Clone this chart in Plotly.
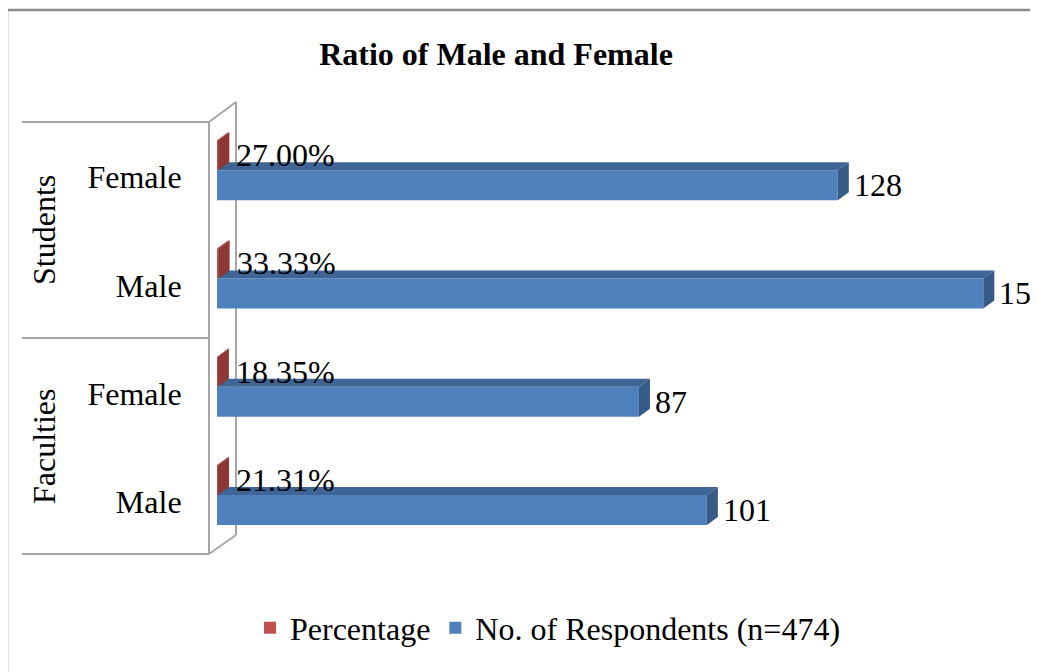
import plotly.graph_objects as go

# ---------------- data ----------------
groups = ["Students", "Students", "Faculties", "Faculties"]
genders = ["Female", "Male", "Female", "Male"]
respondents = [128, 158, 87, 101]
percentage = [0.2700, 0.3333, 0.1835, 0.2131]
series_names = ["Percentage", "No. of Respondents (n=474)"]

# ---------------- layout helpers ----------------
OFF = 8                       # page body margin of the html page
FIG_W, FIG_H = 1038 - OFF, 672 - OFF
L, T = 217 - OFF, 116 - OFF   # plot area origin (figure pixels)
PLOT_BOTTOM = 549 - OFF
R, B = 0, FIG_H - PLOT_BOTTOM
PW, PH = FIG_W - L - R, FIG_H - T - B
PX_PER_X = 4.85
PX_PER_Y = PH / 4.0
X_MAX = PW / PX_PER_X

def xp(px):  # reference-screen pixel -> paper
    return (px - OFF - L) / PW

def yp(py):
    return 1 - (py - OFF - T) / PH

FONT = "Times New Roman, Liberation Serif, serif"
FS = 32
BAR_W = 30 / PX_PER_Y          # bar thickness in category units
DX = 11 / PX_PER_X             # 3D depth in x units
DY = 8 / PX_PER_Y              # 3D depth in y units

n = len(genders)
pos = [n - 1 - i for i in range(n)]

RED, RED_SIDE, RED_TOP = "#C0504D", "#8E3836", "#A4403D"
BLUE, BLUE_TOP, BLUE_SIDE = "#4F81BD", "#3E6595", "#375B87"

fig = go.Figure()
fig.add_trace(go.Bar(
    name=series_names[0], orientation="h", x=percentage, y=pos,
    base=0, offset=0, width=BAR_W, marker=dict(color=RED, line=dict(width=0)),
    hoverinfo="x+y"))
fig.add_trace(go.Bar(
    name=series_names[1], orientation="h", x=respondents, y=pos,
    base=0, offset=-BAR_W, width=BAR_W, marker=dict(color=BLUE, line=dict(width=0)),
    hoverinfo="x+y"))

shapes = []
# outer chart border
shapes.append(dict(type="rect", xref="paper", yref="paper",
                   x0=xp(7), x1=xp(1060), y0=yp(10), y1=yp(700),
                   line=dict(color="#8C8C8C", width=2.5), fillcolor="rgba(0,0,0,0)", layer="below"))
# category wall lines
wall = dict(color="#A6A6A6", width=2)
for (a, b, c, d) in [(22, 122, 209, 122), (22, 338, 209, 338), (22, 554, 209, 554),
                     (209, 122, 209, 554), (209, 122, 236, 102), (209, 554, 236, 535),
                     (236, 102, 236, 535)]:
    shapes.append(dict(type="line", xref="paper", yref="paper",
                       x0=xp(a), y0=yp(b), x1=xp(c), y1=yp(d), line=wall, layer="below"))

def poly(pts):
    return "M " + " L ".join(f"{x},{y}" for x, y in pts) + " Z"

for p, v, pv in zip(pos, respondents, percentage):
    # blue top face
    shapes.append(dict(type="path", xref="x", yref="y", layer="above",
                       path=poly([(0, p), (v, p), (v + DX, p + DY), (DX, p + DY)]),
                       fillcolor=BLUE_TOP, line=dict(width=0)))
    # blue side face
    shapes.append(dict(type="path", xref="x", yref="y", layer="above",
                       path=poly([(v, p - BAR_W), (v, p), (v + DX, p + DY), (v + DX, p - BAR_W + DY)]),
                       fillcolor=BLUE_SIDE, line=dict(width=0)))
    # red side face
    shapes.append(dict(type="path", xref="x", yref="y", layer="above",
                       path=poly([(pv, p), (pv, p + BAR_W), (pv + DX, p + BAR_W + DY), (pv + DX, p + DY)]),
                       fillcolor=RED_SIDE, line=dict(width=0)))
    # red top face
    shapes.append(dict(type="path", xref="x", yref="y", layer="above",
                       path=poly([(0, p + BAR_W), (pv, p + BAR_W), (pv + DX, p + BAR_W + DY), (DX, p + BAR_W + DY)]),
                       fillcolor=RED_TOP, line=dict(width=0)))

annotations = []
for p, v, pv in zip(pos, respondents, percentage):
    annotations.append(dict(x=v, y=p - BAR_W / 2, xref="x", yref="y", text=str(v),
                            showarrow=False, xanchor="left", yanchor="middle", xshift=14,
                            font=dict(family=FONT, size=FS, color="#000000")))
    annotations.append(dict(x=pv, y=p + BAR_W / 2, xref="x", yref="y", text=f"{pv:.2%}",
                            showarrow=False, xanchor="left", yanchor="middle", xshift=16,
                            font=dict(family=FONT, size=FS, color="#000000")))

# group labels
for g, ymid in [("Students", 230), ("Faculties", 446)]:
    annotations.append(dict(x=xp(44), y=yp(ymid), xref="paper", yref="paper", text=g,
                            showarrow=False, textangle=-90, xanchor="center", yanchor="middle",
                            font=dict(family=FONT, size=FS, color="#000000")))

fig.update_layout(
    width=FIG_W, height=FIG_H,
    margin=dict(l=L, r=R, t=T, b=B, autoexpand=False),
    paper_bgcolor="#FFFFFF", plot_bgcolor="rgba(0,0,0,0)",
    barmode="overlay",
    title=dict(text="<b>Ratio of Male and Female</b>", x=(496 - OFF) / FIG_W, xref="container",
               xanchor="center", y=1 - (54 - OFF) / FIG_H, yref="container", yanchor="middle",
               font=dict(family=FONT, size=FS, color="#000000")),
    xaxis=dict(range=[0, X_MAX], visible=False, fixedrange=True),
    yaxis=dict(range=[-0.5, n - 0.5], tickvals=[p - 7 / PX_PER_Y for p in pos], ticktext=genders,
               ticks="outside", ticklen=28, tickcolor="rgba(0,0,0,0)", showgrid=False,
               zeroline=False, showline=False,
               tickfont=dict(family=FONT, size=FS, color="#000000")),
    legend=dict(orientation="h", xref="container", yref="container",
                x=(548 - OFF) / FIG_W, y=1 - (628 - OFF) / FIG_H,
                xanchor="center", yanchor="middle", font=dict(family=FONT, size=FS, color="#000000"),
                itemwidth=30, bgcolor="rgba(0,0,0,0)", traceorder="normal"),
    shapes=shapes, annotations=annotations, showlegend=True,
)

fig.write_html("out.html")
